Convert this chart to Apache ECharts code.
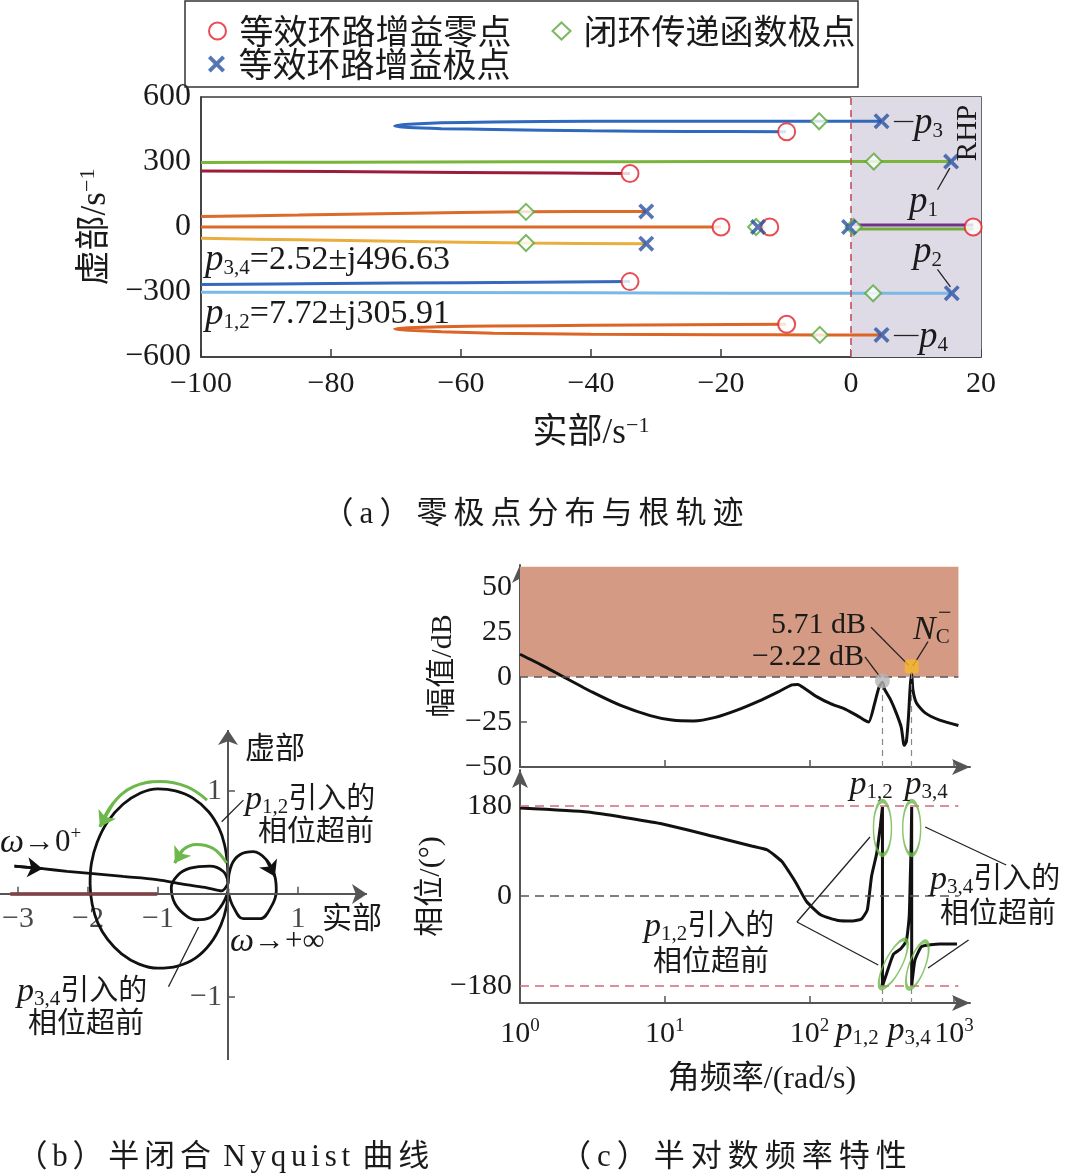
<!DOCTYPE html>
<html><head><meta charset="utf-8">
<script src="https://cdn.jsdelivr.net/npm/echarts@6/dist/echarts.min.js"></script>
<style>html,body{margin:0;padding:0;background:#fff}#c{width:1070px;height:1176px}</style>
</head><body><div id="c"></div>
<script>
// ===== (a) root locus data =====
const branchP3 = [[4.7,488],[-5,488],[-20,488],[-40,488],[-55,485],[-63,481],[-68,474],[-70.2,466],[-68,459],[-63,454],[-55,450],[-40,444],[-25,441],[-10,440]];
const branchP1 = [[15.4,302],[3.5,302],[-20,302],[-50,301],[-80,299],[-100,298]];
const branchZ1 = [[-34,247],[-45,249],[-60,252],[-80,256],[-100,259]];
const branchA  = [[-31.5,72],[-50,70],[-70,62],[-85,55],[-100,48]];
const branchB  = [[-20,0],[-60,0],[-100,0]];
const branchC  = [[-31.5,-77],[-50,-74],[-70,-66],[-85,-59],[-100,-52]];
const branchZ2 = [[-34,-252],[-60,-257],[-80,-261],[-100,-265]];
const branchP2 = [[15.5,-306],[3.4,-306],[-40,-304],[-100,-301]];
const branchP4 = [[4.7,-498],[-5,-498],[-20,-497],[-40,-495],[-55,-490],[-63,-484],[-68,-477],[-70.2,-471],[-68,-465],[-63,-460],[-55,-457],[-40,-454],[-25,-451],[-10,-449]];
const branchRhpPurple = [[0,9],[18.8,9]];
const branchRhpGreen  = [[0,-9],[18.8,-9]];
const loopZeros       = [[-9.9,440],[-34,247],[-20,0],[-12.5,0],[18.8,0],[-34,-252],[-9.9,-449]];
const closedLoopPoles = [[-4.9,488],[3.5,302],[-50,70],[-50,-74],[-14.6,0],[0.4,0],[3.4,-306],[-4.8,-498]];
const loopPoles       = [[4.7,488],[15.4,302],[-31.5,72],[-31.5,-77],[-14.3,0],[-0.3,0],[15.5,-306],[4.7,-498]];
const xTicksA = [-100,-80,-60,-40,-20,0,20];
const yTicksA = [-600,-300,0,300,600];

// ===== (b) Nyquist data =====
const nyqCritical  = [[-3.11,0],[-1.01,0]];
const nyqLowFreq   = [[-3.05,0.27],[-2.65,0.245],[-2.3,0.22],[-1.97,0.2],[-1.5,0.17],[-1.02,0.14],[-0.6,0.09],[-0.3,0.06],[-0.09,0.03],[0,0.1]];
const nyqBigLoop   = [[0,0.1],[-0.01,0.3],[-0.05,0.48],[-0.13,0.64],[-0.28,0.8],[-0.5,0.93],[-0.75,1.0],[-1.0,1.02],[-1.25,0.98],[-1.5,0.87],[-1.72,0.7],[-1.87,0.5],[-1.95,0.3],[-1.97,0.1],[-1.94,-0.1],[-1.86,-0.28],[-1.72,-0.44],[-1.52,-0.58],[-1.27,-0.68],[-1.0,-0.72],[-0.72,-0.7],[-0.46,-0.62],[-0.25,-0.48],[-0.1,-0.3],[-0.02,-0.12],[0,0.05]];
const nyqSmallLoop = [[0,0.12],[-0.07,0.22],[-0.26,0.27],[-0.54,0.25],[-0.72,0.18],[-0.81,0.06],[-0.76,-0.09],[-0.6,-0.21],[-0.45,-0.25],[-0.26,-0.23],[-0.1,-0.12],[0,0.02]];
const nyqRightLoop = [[0,0.1],[0.05,0.28],[0.17,0.38],[0.36,0.41],[0.55,0.33],[0.67,0.17],[0.69,0.03],[0.62,-0.12],[0.46,-0.24],[0.22,-0.24],[0.08,-0.13],[0.01,0.0]];
const greenArcBig   = [[-0.3,0.91],[-0.59,1.04],[-0.97,1.09],[-1.35,1.04],[-1.64,0.88],[-1.83,0.65]];
const greenArcSmall = [[-0.02,0.3],[-0.21,0.44],[-0.45,0.48],[-0.64,0.43],[-0.76,0.3]];
const xTicksB = [-3,-2,-1,1];
const yTicksB = [-1,1];
const xExtentB = [-3.257, 1.986];
const yExtentB = [-1.61, 1.59];

// ===== (c) Bode data (x = log10 of rad/s) =====
const magLogW = [0,0.15,0.3,0.5,0.7,0.9,1.05,1.2,1.35,1.5,1.65,1.78,1.88,1.92,1.96,2.05,2.15,2.25,2.33,2.38,2.41,2.45,2.48,2.505,2.52,2.56,2.6,2.635,2.655,2.67,2.685,2.697,2.707,2.715,2.74,2.8,2.9,3.03];
const magDB   = [12.5,6.5,0,-8.5,-16,-21.5,-24,-24.5,-22.5,-18.5,-13.5,-8.5,-4.5,-4.2,-6,-11,-15,-18,-21.5,-24,-25,-15,-6,-3,-7,-12.5,-20,-28,-38,-36,-22,-5,2,-7,-14.5,-20,-24,-27];
const phaseLogW = [0,0.47,0.97,1.34,1.6,1.71,1.81,1.86,1.91,1.98,2.08,2.2,2.3,2.36,2.4,2.43,2.465,2.49,2.505,2.505,2.534,2.58,2.63,2.67,2.69,2.698,2.703,2.707,2.707,2.73,2.776,2.9,3.02];
const phaseDeg  = [176,168,145,119,100,92,69,48,25,-11,-38,-49,-50,-46,-28,40,85,139,178,-180,-155,-117,-106,-90,-40,45,100,178,-180,-128,-101,-96,-96];
const pLogW   = [2.505, 2.707];      // p1,2 and p3,4
const peakDB  = [-2.22, 5.71];
const leadEllipseCenters = [[2.505,136],[2.707,136],[2.58,-136],[2.746,-138]];
const decadeTicks = [0,1,2,3];
const magTicks = [-50,-25,0,25,50];
const phaseTicks = [-180,0,180];

// ===== styling helpers =====
const SERIF = "'Liberation Serif','Noto Sans CJK SC',serif";
const TXT = '#1a1a1a';
const minus = v => String(v).replace('-', '\u2212');
const RICH = {
  i:   {fontFamily: SERIF, fontStyle: 'italic', fontSize: 34, lineHeight: 36, color: TXT},
  ib:  {fontFamily: SERIF, fontStyle: 'italic', fontSize: 37, lineHeight: 38, color: TXT},
  n:   {fontFamily: SERIF, fontSize: 31, lineHeight: 36, color: TXT},
  n2:  {fontFamily: SERIF, fontSize: 34, lineHeight: 38, color: TXT},
  c:   {fontFamily: SERIF, fontSize: 29, lineHeight: 36, color: TXT},
  sub: {fontFamily: SERIF, fontSize: 21, lineHeight: 21, verticalAlign: 'bottom', color: TXT},
  sup: {fontFamily: SERIF, fontSize: 19, lineHeight: 19, verticalAlign: 'top', color: TXT},
  b:   {fontFamily: SERIF, fontSize: 30, lineHeight: 34, color: TXT},
  s:   {fontFamily: SERIF, fontSize: 19, lineHeight: 19, verticalAlign: 'top', color: TXT},
  bn:  {fontFamily: SERIF, fontSize: 35, lineHeight: 38, color: TXT},
  sn:  {fontFamily: SERIF, fontSize: 22, lineHeight: 22, verticalAlign: 'top', color: TXT},
  t:   {fontFamily: SERIF, fontSize: 31, lineHeight: 36, color: TXT, padding: [0, 3, 0, 3]},
  t2:  {fontFamily: SERIF, fontSize: 31, lineHeight: 36, color: TXT, padding: [0, 2.4, 0, 2.4]}
};
const XPATH = 'path://M0,1.6 L1.6,0 L5,3.4 L8.4,0 L10,1.6 L6.6,5 L10,8.4 L8.4,10 L5,6.6 L1.6,10 L0,8.4 L3.4,5 Z';
const spaced = (s, k) => Array.from(s).map(ch => ch === ' ' ? ' ' : '{' + (k || 't') + '|' + ch + '}').join('');

function lineS(data, color, width, xi, extra) {
  return Object.assign({type: 'line', xAxisIndex: xi, yAxisIndex: xi, data: data, symbol: 'none', showSymbol: false,
    lineStyle: {color: color, width: width}, smooth: 0.3, silent: true, z: 3}, extra || {});
}
function leaders(xi, segs, extra) {
  return Object.assign({type: 'lines', coordinateSystem: 'cartesian2d', xAxisIndex: xi, yAxisIndex: xi, polyline: false,
    symbol: 'none', clip: false, lineStyle: {color: '#222', width: 1.3, opacity: 1, curveness: 0},
    data: segs.map(s => ({coords: s})), silent: true, z: 6}, extra || {});
}
function txt(x, y, text, o) {
  o = o || {};
  const al = o.align || 'left';
  return {type: 'text', x: x, y: y, rotation: o.rotation || 0, silent: true, z: 100,
    style: {text: text, rich: RICH, fill: TXT, fontFamily: SERIF, fontSize: o.size || 30,
      align: al, textAlign: al, verticalAlign: 'middle', textVerticalAlign: 'middle'}};
}

const chart = echarts.init(document.getElementById('c'), null, {renderer: 'canvas'});
const axisTxt = {fontFamily: SERIF, fontSize: 30, color: TXT};
const hiddenAxis = {axisLine: {show: false}, axisTick: {show: false}, axisLabel: {show: false}, splitLine: {show: false}};
const legendText = {fontFamily: "'Noto Sans CJK SC'", fontSize: 34, color: TXT, padding: [0, 0, 0, 8]};

const option = {
  animation: false,
  backgroundColor: '#fff',
  textStyle: {fontFamily: SERIF},
  grid: [
    {left: 201, top: 97, width: 780, height: 260, show: true, borderColor: '#3a3a3a', borderWidth: 1.5, backgroundColor: 'transparent', outerBoundsMode: 'none', containLabel: false},
    {left: 0, top: 730, width: 367, height: 330, outerBoundsMode: 'none', containLabel: false},
    {left: 520, top: 565, width: 450, height: 202, outerBoundsMode: 'none', containLabel: false},
    {left: 520, top: 770, width: 450, height: 233, outerBoundsMode: 'none', containLabel: false}
  ],
  legend: [
    {left: 203, top: 9, itemWidth: 18, itemHeight: 17, itemGap: 40, selectedMode: false, textStyle: legendText,
     data: ['等效环路增益零点', '闭环传递函数极点']},
    {left: 203, top: 42, itemWidth: 18, itemHeight: 17, selectedMode: false, textStyle: legendText,
     data: ['等效环路增益极点']}
  ],
  xAxis: [
    {gridIndex: 0, type: 'value', min: -100, max: 20, interval: 20,
     axisLine: {show: true, onZero: false, lineStyle: {color: '#3a3a3a', width: 1.5}},
     axisTick: {show: true, inside: true, length: 8, customValues: xTicksA, lineStyle: {color: '#3a3a3a', width: 1.5}},
     axisLabel: Object.assign({margin: 12, customValues: xTicksA, formatter: minus}, axisTxt),
     splitLine: {show: false},
     name: '{bn|实部/s}{sn|\u22121}', nameLocation: 'middle', nameGap: 58,
     nameTextStyle: {rich: RICH, fontSize: 35}},
    Object.assign({gridIndex: 1, type: 'value', min: xExtentB[0], max: xExtentB[1]}, hiddenAxis),
    {gridIndex: 2, type: 'value', min: 0, max: 3.11,
     axisLine: {show: true, onZero: false, symbol: ['none', 'arrow'], symbolSize: [12, 18], lineStyle: {color: '#555', width: 2}},
     axisTick: {show: true, inside: true, length: 7, customValues: [1, 2, 3], lineStyle: {color: '#555', width: 1.5}},
     axisLabel: {show: false}, splitLine: {show: false}},
    {gridIndex: 3, type: 'value', min: 0, max: 3.11,
     axisLine: {show: true, onZero: false, symbol: ['none', 'arrow'], symbolSize: [12, 18], lineStyle: {color: '#555', width: 2}},
     axisTick: {show: true, inside: true, length: 7, customValues: [1, 2, 3], lineStyle: {color: '#555', width: 1.5}},
     axisLabel: {margin: 14, customValues: decadeTicks, formatter: v => '{b|10}{s|' + v + '}', rich: RICH},
     splitLine: {show: false}}
  ],
  yAxis: [
    {gridIndex: 0, type: 'value', min: -600, max: 600, interval: 300,
     axisLine: {show: true, onZero: false, lineStyle: {color: '#3a3a3a', width: 1.5}},
     axisTick: {show: false},
     axisLabel: Object.assign({margin: 10, customValues: yTicksA, formatter: minus}, axisTxt, {fontSize: 32}),
     splitLine: {show: false},
     name: '{bn|虚部/s}{sn|\u22121}', nameLocation: 'middle', nameGap: 86, nameRotate: 90,
     nameTextStyle: {rich: RICH, fontSize: 35}},
    Object.assign({gridIndex: 1, type: 'value', min: yExtentB[0], max: yExtentB[1]}, hiddenAxis),
    {gridIndex: 2, type: 'value', min: -50, max: 62,
     axisLine: {show: true, onZero: false, symbol: ['none', 'arrow'], symbolSize: [12, 18], lineStyle: {color: '#555', width: 2}},
     axisTick: {show: true, inside: true, length: 7, customValues: [-25, 25], lineStyle: {color: '#555', width: 1.5}},
     axisLabel: Object.assign({margin: 8, customValues: magTicks, formatter: minus}, axisTxt),
     splitLine: {show: false},
     name: '幅值/dB', nameLocation: 'middle', nameGap: 62, nameRotate: 90,
     nameTextStyle: {fontFamily: SERIF, fontSize: 30, color: TXT}},
    {gridIndex: 3, type: 'value', min: -214, max: 252,
     axisLine: {show: true, onZero: false, symbol: ['none', 'arrow'], symbolSize: [12, 18], lineStyle: {color: '#555', width: 2}},
     axisTick: {show: false},
     axisLabel: Object.assign({margin: 8, customValues: phaseTicks, formatter: minus}, axisTxt),
     splitLine: {show: false},
     name: '相位/(°)', nameLocation: 'middle', nameGap: 62, nameRotate: 90,
     nameTextStyle: {fontFamily: SERIF, fontSize: 30, color: TXT}}
  ],
  series: [
    // ---- (a) background: RHP shading & imaginary axis
    {type: 'line', xAxisIndex: 0, yAxisIndex: 0, data: [], z: 1, silent: true,
     markArea: {silent: true, itemStyle: {color: '#dedbe7'}, data: [[{coord: [0, -600]}, {coord: [20, 600]}]]},
     markLine: {silent: true, symbol: 'none', label: {show: false}, lineStyle: {color: '#c0505a', type: [7, 5], width: 1.6},
       data: [[{coord: [0, -600]}, {coord: [0, 600]}]]}},
    lineS(branchP3, '#2f68bd', 3, 0),
    lineS(branchP1, '#7ab43a', 3, 0),
    lineS(branchZ1, '#9c1c3a', 3, 0),
    lineS(branchA, '#dc6a28', 3, 0),
    lineS(branchB, '#dc6a28', 3, 0),
    lineS(branchC, '#eaae3e', 3, 0),
    lineS(branchZ2, '#3469bd', 3, 0),
    lineS(branchP2, '#7ab8e8', 3, 0),
    lineS(branchP4, '#dc6424', 3, 0),
    lineS(branchRhpGreen, '#6fae3a', 3, 0),
    lineS(branchRhpPurple, '#74318c', 3, 0),
    {name: '等效环路增益零点', type: 'scatter', xAxisIndex: 0, yAxisIndex: 0, data: loopZeros, symbol: 'emptyCircle', symbolSize: 17,
     itemStyle: {color: '#e2202b', borderColor: '#e2202b', borderWidth: 3}, z: 8},
    {name: '闭环传递函数极点', type: 'scatter', xAxisIndex: 0, yAxisIndex: 0, data: closedLoopPoles, symbol: 'emptyDiamond', symbolSize: 16,
     itemStyle: {color: '#5aa83a', borderColor: '#5aa83a', borderWidth: 2.5}, z: 7},
    {name: '等效环路增益极点', type: 'scatter', xAxisIndex: 0, yAxisIndex: 0, data: loopPoles, symbol: XPATH, symbolSize: 16,
     itemStyle: {color: '#2b52a3'}, z: 9},
    leaders(0, [[[6.6, 488], [9.6, 488]], [[6.6, -498], [10.4, -498]], [[13.3, 172], [15.2, 272]], [[13.3, -196], [15.3, -276]]]),

    // ---- (b) Nyquist: drawn axes with arrows, ticks and labels
    {type: 'line', xAxisIndex: 1, yAxisIndex: 1, data: [], z: 2, silent: true,
     markLine: {silent: true, symbol: ['none', 'arrow'], symbolSize: 15, label: {show: false},
       lineStyle: {color: '#555', width: 2, type: 'solid'},
       data: [
         [{coord: [xExtentB[0], 0]}, {coord: [xExtentB[1], 0]}],
         [{coord: [0, yExtentB[0]]}, {coord: [0, yExtentB[1]]}]
       ]}},
    {type: 'line', xAxisIndex: 1, yAxisIndex: 1, data: [], z: 2, silent: true,
     markLine: {silent: true, symbol: 'none', label: {show: false},
       lineStyle: {color: '#555', width: 1.5, type: 'solid'},
       data: xTicksB.map(t => [{coord: [t, 0]}, {coord: [t, 0.07]}]).concat(
             yTicksB.map(t => [{coord: [0, t]}, {coord: [0.1, t]}]))}},
    {type: 'scatter', xAxisIndex: 1, yAxisIndex: 1, symbolSize: 0, silent: true, z: 2,
     data: xTicksB.map(t => [t, 0]),
     label: Object.assign({show: true, position: 'bottom', distance: 10, formatter: p => minus(p.value[0])}, axisTxt)},
    {type: 'scatter', xAxisIndex: 1, yAxisIndex: 1, symbolSize: 0, silent: true, z: 2,
     data: yTicksB.map(t => [0, t]),
     label: Object.assign({show: true, position: 'left', distance: 6, formatter: p => minus(p.value[1])}, axisTxt)},
    lineS(nyqCritical, '#a8141e', 3.5, 1, {smooth: false, z: 4}),
    lineS(nyqLowFreq, '#111', 2.8, 1),
    lineS(nyqBigLoop, '#111', 2.8, 1, {smooth: 0.35}),
    lineS(nyqSmallLoop, '#111', 2.8, 1, {smooth: 0.4}),
    lineS(nyqRightLoop, '#111', 2.8, 1, {smooth: 0.4}),
    lineS(greenArcBig, '#6cb84a', 3, 1, {smooth: 0.4, z: 5}),
    lineS(greenArcSmall, '#6cb84a', 3, 1, {smooth: 0.4, z: 5}),
    {type: 'lines', coordinateSystem: 'cartesian2d', xAxisIndex: 1, yAxisIndex: 1, symbol: ['none', 'arrow'], symbolSize: 15, silent: true, z: 6,
     lineStyle: {width: 2.8, opacity: 1, curveness: 0},
     data: [
       {coords: [greenArcBig[4], greenArcBig[5]], lineStyle: {color: '#6cb84a'}},
       {coords: [greenArcSmall[3], greenArcSmall[4]], lineStyle: {color: '#6cb84a'}},
       {coords: [nyqLowFreq[0], nyqLowFreq[1]], lineStyle: {color: '#111'}},
       {coords: [nyqRightLoop[4], nyqRightLoop[5]], lineStyle: {color: '#111'}}
     ]},
    leaders(1, [[[0.22, 0.91], [-0.09, 0.7]], [[-0.85, -0.9], [-0.42, -0.32]]]),

    // ---- (c) magnitude
    {type: 'line', xAxisIndex: 2, yAxisIndex: 2, data: [], z: 1, silent: true,
     markArea: {silent: true, itemStyle: {color: '#d59a83'}, data: [[{coord: [0, 0]}, {coord: [3.03, 61]}]]}},
    {type: 'line', xAxisIndex: 2, yAxisIndex: 2, data: [], z: 2, silent: true,
     markLine: {silent: true, symbol: 'none', label: {show: false},
       data: [
         [{coord: [0, 0], lineStyle: {color: '#555', type: [8, 6], width: 1.6}}, {coord: [3.03, 0]}],
         [{coord: [pLogW[0], -50], lineStyle: {color: '#888', type: [6, 5], width: 1.2}}, {coord: [pLogW[0], peakDB[0]]}],
         [{coord: [pLogW[1], -50], lineStyle: {color: '#888', type: [6, 5], width: 1.2}}, {coord: [pLogW[1], peakDB[1]]}]
       ]}},
    lineS(magLogW.map((x, i) => [x, magDB[i]]), '#111', 3, 2, {smooth: 0.2}),
    {type: 'scatter', xAxisIndex: 2, yAxisIndex: 2, silent: true, z: 8,
     data: [
       {value: [pLogW[0], peakDB[0]], symbol: 'circle', symbolSize: 15, itemStyle: {color: '#b4b4b4'}},
       {value: [pLogW[1], peakDB[1]], symbol: 'roundRect', symbolSize: 14, itemStyle: {color: '#f5b82c'}}
     ]},
    leaders(2, [[[2.426, 27.5], [2.685, 6.5]], [[2.384, 11], [2.492, -0.5]], [[2.82, 19.5], [2.715, 6]]]),

    // ---- (c) phase
    {type: 'line', xAxisIndex: 3, yAxisIndex: 3, data: [], z: 2, silent: true,
     markLine: {silent: true, symbol: 'none', label: {show: false},
       data: [
         [{coord: [0, 180], lineStyle: {color: '#d46a7a', type: [9, 6], width: 1.6}}, {coord: [3.03, 180]}],
         [{coord: [0, -180], lineStyle: {color: '#d46a7a', type: [9, 6], width: 1.6}}, {coord: [3.03, -180]}],
         [{coord: [0, 0], lineStyle: {color: '#555', type: [9, 6], width: 1.6}}, {coord: [3.03, 0]}],
         [{coord: [pLogW[0], -214], lineStyle: {color: '#888', type: [5, 4], width: 1.2}}, {coord: [pLogW[0], -180]}],
         [{coord: [pLogW[1], -214], lineStyle: {color: '#888', type: [5, 4], width: 1.2}}, {coord: [pLogW[1], -180]}]
       ]}},
    lineS(phaseLogW.map((x, i) => [x, phaseDeg[i]]), '#111', 3, 3, {smooth: 0.15}),
    {type: 'scatter', xAxisIndex: 3, yAxisIndex: 3, silent: true, z: 8, symbol: 'circle',
     itemStyle: {color: 'rgba(0,0,0,0)', borderColor: '#6cb84a', borderWidth: 2.5},
     data: [
       {value: leadEllipseCenters[0], symbolSize: [18, 54], symbolRotate: 0},
       {value: leadEllipseCenters[1], symbolSize: [18, 54], symbolRotate: 0},
       {value: leadEllipseCenters[2], symbolSize: [17, 54], symbolRotate: -27},
       {value: leadEllipseCenters[3], symbolSize: [16, 50], symbolRotate: -20}
     ]},
    leaders(3, [[[1.914, -52], [2.419, 118]], [[1.914, -52], [2.476, -138]], [[2.80, 138], [3.36, 62]], [[2.82, -144], [3.1, -88]]])
  ],
  graphic: [
    {type: 'rect', shape: {x: 185, y: 1, width: 673, height: 86}, style: {fill: 'none', stroke: '#333', lineWidth: 1.5}, silent: true, z: 100},
    // (a)
    txt(205, 260, '{ib|p}{sub|3,4}{n2|=2.52±j496.63}'),
    txt(205, 314, '{ib|p}{sub|1,2}{n2|=7.72±j305.91}'),
    txt(914, 123, '{ib|p}{sub|3}'),
    txt(909, 202, '{ib|p}{sub|1}'),
    txt(913, 252, '{ib|p}{sub|2}'),
    txt(919, 337, '{ib|p}{sub|4}'),
    txt(968, 133, 'RHP', {align: 'center', rotation: Math.PI / 2, size: 29}),
    txt(533, 515, spaced('（a）零极点分布与根轨迹'), {align: 'center'}),
    // (b)
    txt(245, 750, '虚部', {size: 30}),
    txt(322, 920, '实部', {size: 30}),
    txt(0, 843, '{i|ω}{n|→0}{sup|+}'),
    txt(230, 942, '{i|ω}{n|→+∞}'),
    txt(245, 800, '{i|p}{sub|1,2}{c|引入的}'),
    txt(258, 833, '相位超前', {size: 29}),
    txt(17, 992, '{i|p}{sub|3,4}{c|引入的}'),
    txt(28, 1025, '相位超前', {size: 29}),
    txt(14, 1158, spaced('（b）半闭合 Nyquist 曲线', 't2')),
    // (c)
    txt(866, 625, '5.71 dB', {align: 'right'}),
    txt(864, 657, '\u22122.22 dB', {align: 'right'}),
    txt(913, 630, '{i|N}{sub|C}'),
    txt(938, 614, '\u2212', {size: 24}),
    txt(871, 785, '{i|p}{sub|1,2}', {align: 'center'}),
    txt(926, 785, '{i|p}{sub|3,4}', {align: 'center'}),
    txt(857, 1031, '{i|p}{sub|1,2}', {align: 'center'}),
    txt(909, 1031, '{i|p}{sub|3,4}', {align: 'center'}),
    txt(644, 927, '{i|p}{sub|1,2}{c|引入的}'),
    txt(653, 963, '相位超前', {size: 29}),
    txt(930, 880, '{i|p}{sub|3,4}{c|引入的}'),
    txt(940, 915, '相位超前', {size: 29}),
    txt(762, 1080, '角频率/(rad/s)', {align: 'center', size: 32}),
    txt(557, 1158, spaced('（c）半对数频率特性'))
  ]
};
chart.setOption(option);
</script>
</body></html>
